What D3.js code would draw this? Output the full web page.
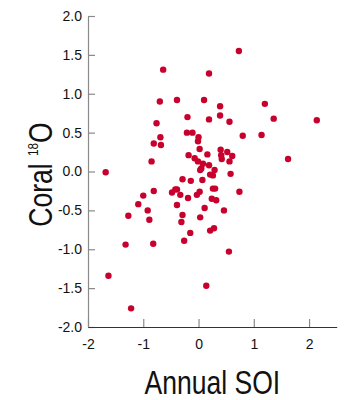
<!DOCTYPE html>
<html>
<head>
<meta charset="utf-8">
<script src="https://cdn.jsdelivr.net/npm/d3@7"></script>
<style>
  html, body { margin: 0; padding: 0; background: #fff; }
  svg { display: block; font-family: "Liberation Sans", Arial, Helvetica, sans-serif; }
</style>
</head>
<body>
<svg id="chart" width="360" height="400"></svg>
<script>
// Annual SOI (x) values
const soi = [
  0.73, -0.64, 0.19, -0.70, -0.39, 0.10, 0.39, 1.20, -0.20, 0.39,
  0.19, 0.56, 1.36, 2.14, -0.76, -0.21, -0.11, -0.69, 0.00, -0.01,
  0.80, 1.14, -0.81, -0.68, 0.02, -0.18, 0.16, 0.40, 0.52, 0.61,
  0.41, 0.42, 0.56, 1.62, -0.85, -0.07, -0.01, 0.08, 0.05, 0.19,
  0.29, 0.03, -1.68, 0.58, 0.21, 0.26, -0.29, -0.14, 0.07, -1.00,
  -0.81, -0.48, -0.42, -0.39, -0.33, -0.19, -0.03, 0.02, 0.26, 0.30,
  0.74, 0.24, 0.32, -1.09, -0.92, -0.39, 0.11, 0.46, -1.27, -0.89,
  -0.29, -0.31, 0.03, -0.15, 0.21, 0.28, -0.26, -1.32, -0.82, 0.55,
  -1.63, 0.14, -1.22
];
// Coral 18O (y) values
const coral = [
  1.55, 1.31, 1.26, 0.90, 0.92, 0.92, 0.84, 0.87, 0.70, 0.72,
  0.67, 0.64, 0.68, 0.66, 0.62, 0.50, 0.50, 0.44, 0.44, 0.39,
  0.46, 0.47, 0.36, 0.34, 0.29, 0.21, 0.22, 0.28, 0.25, 0.20,
  0.21, 0.16, 0.13, 0.16, 0.13, 0.17, 0.13, 0.10, 0.04, 0.08,
  0.02, 0.02, -0.01, -0.03, -0.04, -0.05, -0.10, -0.12, -0.11, -0.31,
  -0.25, -0.27, -0.23, -0.23, -0.30, -0.34, -0.30, -0.26, -0.22, -0.22,
  -0.26, -0.35, -0.37, -0.42, -0.50, -0.43, -0.47, -0.50, -0.57, -0.62,
  -0.56, -0.65, -0.59, -0.79, -0.76, -0.73, -0.89, -0.94, -0.93, -1.03,
  -1.34, -1.47, -1.76
];
const xTicks = [-2, -1, 0, 1, 2];
const yTicks = [-2.0, -1.5, -1.0, -0.5, 0.0, 0.5, 1.0, 1.5, 2.0];
const xTitle = "Annual SOI";
const yTitle = ["Coral ", "18", "O"];

const svg = d3.select("#chart");
const mLeft = 88, mRight = 336.7, mTop = 16, mBottom = 327;

const x = d3.scaleLinear().domain([-2, 2.5]).range([mLeft, mRight]);
const y = d3.scaleLinear().domain([-2, 2]).range([mBottom, mTop]);

const fmtX = d => String(d);
const fmtY = d => d3.format(".1f")(d).replace("\u2212", "-");

// Y axis
const yAxis = svg.append("g")
  .attr("transform", `translate(${mLeft},0)`)
  .call(d3.axisLeft(y).tickValues(yTicks).tickFormat(fmtY).tickSizeInner(-7).tickSizeOuter(0).tickPadding(6));
yAxis.select(".domain").attr("stroke", "#8a8a8a").attr("stroke-width", 1.2);
yAxis.selectAll(".tick line").attr("stroke", "#8a8a8a").attr("stroke-width", 1.2);
yAxis.selectAll(".tick text")
  .attr("x", -6)
  .attr("fill", "#111")
  .style("font-size", "14px")
  .style("font-family", "'Liberation Sans', Arial, sans-serif");

// X axis
const xAxis = svg.append("g")
  .attr("transform", `translate(0,${mBottom})`)
  .call(d3.axisBottom(x).tickValues(xTicks).tickFormat(fmtX).tickSizeInner(-8).tickSizeOuter(0).tickPadding(12));
xAxis.select(".domain").attr("stroke", "#333").attr("stroke-width", 1.2);
xAxis.selectAll(".tick line").attr("stroke", "#8a8a8a").attr("stroke-width", 1.2);
xAxis.selectAll(".tick text")
  .attr("y", 12)
  .attr("fill", "#111")
  .style("font-size", "14px")
  .style("font-family", "'Liberation Sans', Arial, sans-serif");

// Points
svg.append("g")
  .selectAll("circle")
  .data(soi.map((v, i) => ({ x: v, y: coral[i] })))
  .join("circle")
  .attr("cx", d => x(d.x))
  .attr("cy", d => y(d.y))
  .attr("r", 3.2)
  .attr("fill", "#c8002d");

// X title
svg.append("text")
  .attr("transform", `translate(${(mLeft + mRight) / 2},394) scale(0.78,1)`)
  .attr("text-anchor", "middle")
  .attr("fill", "#111")
  .style("font-size", "34px")
  .text(xTitle);

// Y title
const yt = svg.append("text")
  .attr("transform", "translate(52,174.5) rotate(-90) scale(0.78,1)")
  .attr("text-anchor", "middle")
  .attr("fill", "#111")
  .style("font-size", "34px");
yt.append("tspan").text(yTitle[0]);
yt.append("tspan").attr("dy", -14).style("font-size", "15px").text(yTitle[1]);
yt.append("tspan").attr("dy", 14).text(yTitle[2]);
</script>
</body>
</html>
